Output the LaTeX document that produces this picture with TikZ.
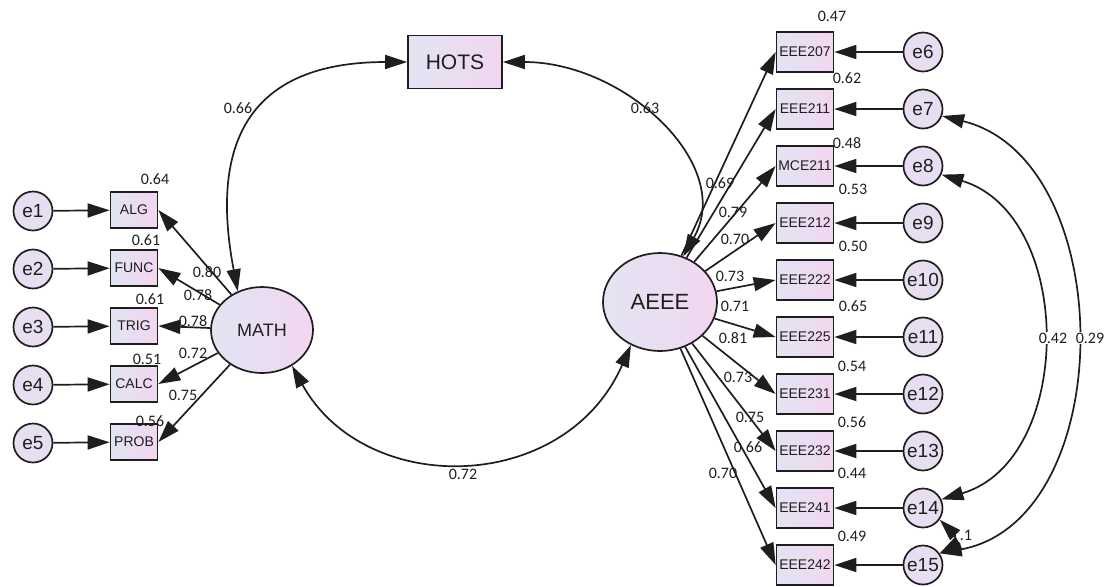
\documentclass[tikz,border=0pt]{standalone}
\usepackage{fontspec}
\setmainfont{Liberation Sans}
\newfontfamily\numfont{Carlito}
\usetikzlibrary{arrows.meta,shapes.geometric}
\definecolor{boxleft}{HTML}{E2E4F2}
\definecolor{boxright}{HTML}{F2D6F0}
\definecolor{errfill}{HTML}{E8DEF2}
\definecolor{inkline}{HTML}{1E1E1E}

\begin{document}
\begin{tikzpicture}[x=0.5pt,y=-0.5pt,line width=0.85pt,draw=inkline,text=inkline]
\tikzstyle{obs} = [rectangle, draw, left color=boxleft, right color=boxright, inner sep=0pt, minimum width=23.5pt, minimum height=18pt, font=\fontsize{7}{8}\selectfont]
\tikzstyle{item} = [obs, minimum width=28.5pt, minimum height=20pt]
\tikzstyle{lat} = [ellipse, draw, left color=boxleft, right color=boxright, inner sep=0pt]
\tikzstyle{err} = [circle, draw, fill=errfill, inner sep=0pt, minimum size=19.5pt, font=\fontsize{9.5}{10}\selectfont]
\tikzstyle{line} = [draw, -{Triangle[length=11pt,width=7pt]}]
\tikzstyle{cov} = [draw, {Triangle[length=11pt,width=7pt]}-{Triangle[length=11pt,width=7pt]}]
\tikzstyle{num} = [inner sep=0.6pt, font=\numfont\fontsize{8}{9}\selectfont]
\useasboundingbox (0,0) rectangle (1109,586);

% MATH side
\node [err] (e1) at (33,211) {e1};
\node [err, below of=e1, node distance=29pt] (e2) {e2};
\node [err, below of=e2, node distance=29pt] (e3) {e3};
\node [err, below of=e3, node distance=29pt] (e4) {e4};
\node [err, below of=e4, node distance=29pt] (e5) {e5};
\node [obs] (ALG) at (134,210) {ALG};
\node [obs, below of=ALG, node distance=29pt] (FUNC) {FUNC};
\node [obs, below of=FUNC, node distance=29pt] (TRIG) {TRIG};
\node [obs, below of=TRIG, node distance=29pt] (CALC) {CALC};
\node [obs, below of=CALC, node distance=29pt] (PROB) {PROB};
\node [lat, minimum width=51pt, minimum height=43pt, font=\fontsize{9}{10}\selectfont] (MATH) at (262,330) {MATH};
\path [line] (e1) -- (ALG);
\path [line] (e2) -- (FUNC);
\path [line] (e3) -- (TRIG);
\path [line] (e4) -- (CALC);
\path [line] (e5) -- (PROB);
\path [line] (MATH) -- (ALG.east);
\path [line] (MATH) -- (FUNC.east);
\path [line] (MATH) -- (TRIG.east);
\path [line] (MATH) -- (CALC.east);
\path [line] (MATH) -- (PROB.east);

% HOTS and AEEE
\node [obs, minimum width=47pt, minimum height=26.5pt, font=\fontsize{10.5}{11}\selectfont] (HOTS) at (455,62) {HOTS};
\node [lat, minimum width=57pt, minimum height=49pt, font=\fontsize{11}{12}\selectfont] (AEEE) at (660,302) {AEEE};
\path [cov] (HOTS.west) .. controls (270,62) and (205,120) .. (MATH.122);
\path [cov] (HOTS.east) .. controls (625,62) and (735,165) .. (AEEE.63);
\path [cov] (MATH.-50) .. controls (365,498) and (565,495) .. (AEEE.236);

% AEEE items
\node [item] (EEE207) at (805,52) {EEE207};
\node [item, below of=EEE207, node distance=28.5pt] (EEE211) {EEE211};
\node [item, below of=EEE211, node distance=28.5pt] (MCE211) {MCE211};
\node [item, below of=MCE211, node distance=28.5pt] (EEE212) {EEE212};
\node [item, below of=EEE212, node distance=28.5pt] (EEE222) {EEE222};
\node [item, below of=EEE222, node distance=28.5pt] (EEE225) {EEE225};
\node [item, below of=EEE225, node distance=28.5pt] (EEE231) {EEE231};
\node [item, below of=EEE231, node distance=28.5pt] (EEE232) {EEE232};
\node [item, below of=EEE232, node distance=28.5pt] (EEE241) {EEE241};
\node [item, below of=EEE241, node distance=28.5pt] (EEE242) {EEE242};
\node [err] (e6) at (923,52) {e6};
\node [err, below of=e6, node distance=28.5pt] (e7) {e7};
\node [err, below of=e7, node distance=28.5pt] (e8) {e8};
\node [err, below of=e8, node distance=28.5pt] (e9) {e9};
\node [err, below of=e9, node distance=28.5pt] (e10) {e10};
\node [err, below of=e10, node distance=28.5pt] (e11) {e11};
\node [err, below of=e11, node distance=28.5pt] (e12) {e12};
\node [err, below of=e12, node distance=28.5pt] (e13) {e13};
\node [err, below of=e13, node distance=28.5pt] (e14) {e14};
\node [err, below of=e14, node distance=28.5pt] (e15) {e15};
\path [line] (AEEE) -- (EEE207.west);
\path [line] (AEEE) -- (EEE211.west);
\path [line] (AEEE) -- (MCE211.west);
\path [line] (AEEE) -- (EEE212.west);
\path [line] (AEEE) -- (EEE222.west);
\path [line] (AEEE) -- (EEE225.west);
\path [line] (AEEE) -- (EEE231.west);
\path [line] (AEEE) -- (EEE232.west);
\path [line] (AEEE) -- (EEE241.west);
\path [line] (AEEE) -- (EEE242.west);
\path [line] (e6) -- (EEE207);
\path [line] (e7) -- (EEE211);
\path [line] (e8) -- (MCE211);
\path [line] (e9) -- (EEE212);
\path [line] (e10) -- (EEE222);
\path [line] (e11) -- (EEE225);
\path [line] (e12) -- (EEE231);
\path [line] (e13) -- (EEE232);
\path [line] (e14) -- (EEE241);
\path [line] (e15) -- (EEE242);
\path [cov] (e8.-25) .. controls (1075,215) and (1075,460) .. (e14.25);
\path [cov] (e7.-20) .. controls (1120,160) and (1120,520) .. (e15.35);
\path [cov] (e14.-35) .. controls (955,535) and (955,545) .. (e15.35);

% estimates
\node [num] (vALG) at (155,179) {0.64};
\node [num] (vFUNC) at (146,240) {0.61};
\node [num] (vTRIG) at (150,299) {0.61};
\node [num] (vCALC) at (147,359) {0.51};
\node [num] (vPROB) at (150,421) {0.56};
\node [num] (lALG) at (207,272) {0.80};
\node [num] (lFUNC) at (198,295) {0.78};
\node [num] (lTRIG) at (193,321) {0.78};
\node [num] (lCALC) at (193,353) {0.72};
\node [num] (lPROB) at (183,395) {0.75};
\node [num] (cHM) at (238,108) {0.66};
\node [num] (cHA) at (645,108) {0.63};
\node [num] (cMA) at (463,474) {0.72};
\node [num] (lEEE207) at (720,183) {0.69};
\node [num] (lEEE211) at (733,212) {0.79};
\node [num] (lMCE211) at (735,239) {0.70};
\node [num] (lEEE212) at (730,276) {0.73};
\node [num] (lEEE222) at (735,306) {0.71};
\node [num] (lEEE225) at (733,338) {0.81};
\node [num] (lEEE231) at (738,377) {0.73};
\node [num] (lEEE232) at (750,417) {0.75};
\node [num] (lEEE241) at (748,447) {0.66};
\node [num] (lEEE242) at (723,473) {0.70};
\node [num] (vEEE207) at (832,16) {0.47};
\node [num] (vEEE211) at (847,78) {0.62};
\node [num] (vMCE211) at (847,143) {0.48};
\node [num] (vEEE212) at (853,189) {0.53};
\node [num] (vEEE222) at (853,246) {0.50};
\node [num] (vEEE225) at (853,306) {0.65};
\node [num] (vEEE231) at (852,366) {0.54};
\node [num] (vEEE232) at (852,422) {0.56};
\node [num] (vEEE241) at (852,473) {0.44};
\node [num] (vEEE242) at (852,536) {0.49};
\node [num, fill=white] (c814) at (1053,338) {0.42};
\node [num, fill=white] (c715) at (1090,338) {0.29};
\node [num] (c1415) at (966,535) {.1};
\end{tikzpicture}
\end{document}
